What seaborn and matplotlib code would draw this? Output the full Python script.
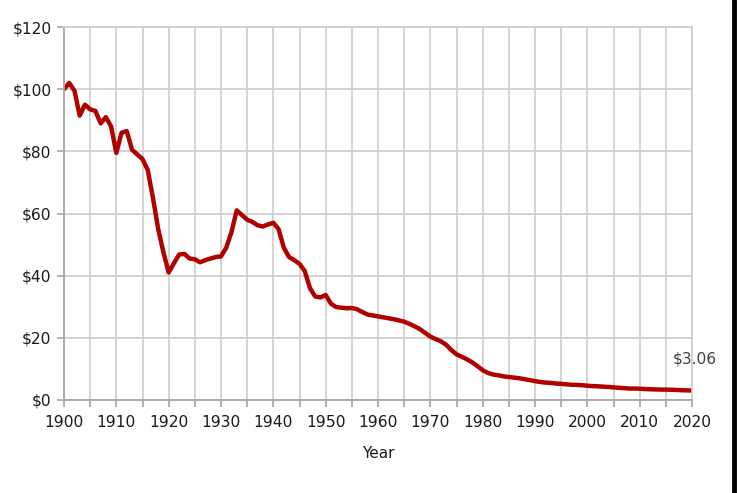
import matplotlib
matplotlib.use("Agg")
import matplotlib.pyplot as plt
from matplotlib.lines import Line2D
import seaborn as sns
import pandas as pd

# purchasing power of $100 (1900 dollars)
years = list(range(1900, 2021))
values = [
    100.0, 102.0, 99.5, 91.5, 95.0, 93.5, 93.0, 89.0, 91.0, 88.0,   # 1900s
    79.5, 86.0, 86.5, 80.5, 79.0, 77.5, 74.0, 65.0, 55.0, 47.5,     # 1910s
    41.0, 44.0, 46.8, 47.0, 45.5, 45.3, 44.3, 45.0, 45.5, 46.0,     # 1920s
    46.2, 49.0, 54.0, 61.0, 59.5, 58.0, 57.3, 56.2, 55.8, 56.5,     # 1930s
    57.0, 55.0, 49.0, 46.0, 45.0, 43.8, 41.5, 36.0, 33.3, 33.0,     # 1940s
    33.8, 31.0, 29.9, 29.7, 29.5, 29.6, 29.2, 28.3, 27.5, 27.2,     # 1950s
    26.9, 26.6, 26.3, 26.0, 25.6, 25.2, 24.5, 23.7, 22.8, 21.6,     # 1960s
    20.4, 19.6, 18.9, 17.8, 16.1, 14.7, 13.9, 13.1, 12.1, 10.9,     # 1970s
    9.6, 8.7, 8.2, 7.95, 7.6, 7.4, 7.2, 7.0, 6.7, 6.4,              # 1980s
    6.06, 5.8, 5.6, 5.5, 5.3, 5.2, 5.05, 4.9, 4.86, 4.75,           # 1990s
    4.6, 4.47, 4.4, 4.3, 4.2, 4.05, 3.93, 3.82, 3.68, 3.69,         # 2000s
    3.63, 3.52, 3.45, 3.4, 3.35, 3.34, 3.3, 3.23, 3.15, 3.1,        # 2010s
    3.06,                                                           # 2020
]
y_ticks = [0, 20, 40, 60, 80, 100, 120]
x_labels = list(range(1900, 2021, 10))
end_label = "$3.06"

df = pd.DataFrame({"Year": years, "Value": values})

sns.set_theme(style="white")
plt.rcParams['font.family'] = ['DejaVu Sans']

fig = plt.figure(figsize=(7.37, 4.93), dpi=100)
ax = fig.add_axes([64 / 737, 93 / 493, 628 / 737, 373 / 493])

sns.lineplot(data=df, x="Year", y="Value", color="#b00000", linewidth=3.2, ax=ax)

ax.set_xlim(1900, 2020)
ax.set_ylim(0, 120)
ax.set_xticks(range(1900, 2021, 5))
ax.set_xticklabels([str(y) if y in x_labels else "" for y in range(1900, 2021, 5)])
ax.set_yticks(y_ticks)
ax.set_yticklabels(["$" + str(v) for v in y_ticks])

ax.grid(True, color="#cccccc", linewidth=1.2)
ax.set_axisbelow(True)
for side in ["top", "right"]:
    ax.spines[side].set_color("#cccccc")
    ax.spines[side].set_linewidth(1.2)
for side in ["left", "bottom"]:
    ax.spines[side].set_color("#a6a6a6")
    ax.spines[side].set_linewidth(1.3)

ax.tick_params(axis="both", which="both", direction="out", length=5, width=1.2,
               color="#a6a6a6", labelsize=11.2, labelcolor="#1a1a1a", pad=6)
ax.tick_params(axis="x", bottom=True)
ax.tick_params(axis="y", left=True, pad=4)

ax.set_xlabel("Year", fontsize=11, color="#1a1a1a", labelpad=11)
ax.set_ylabel("")

ax.annotate(end_label, xy=(years[-1], values[-1]), xytext=(2, 23),
            textcoords="offset points", ha="center", va="center",
            fontsize=11.2, color="#404040")

# black frame edge on the right of the original screenshot
fig.add_artist(Line2D([0.9965, 0.9965], [0, 1], transform=fig.transFigure,
                      color="black", linewidth=3.5))

fig.savefig("out.png", dpi=100)
